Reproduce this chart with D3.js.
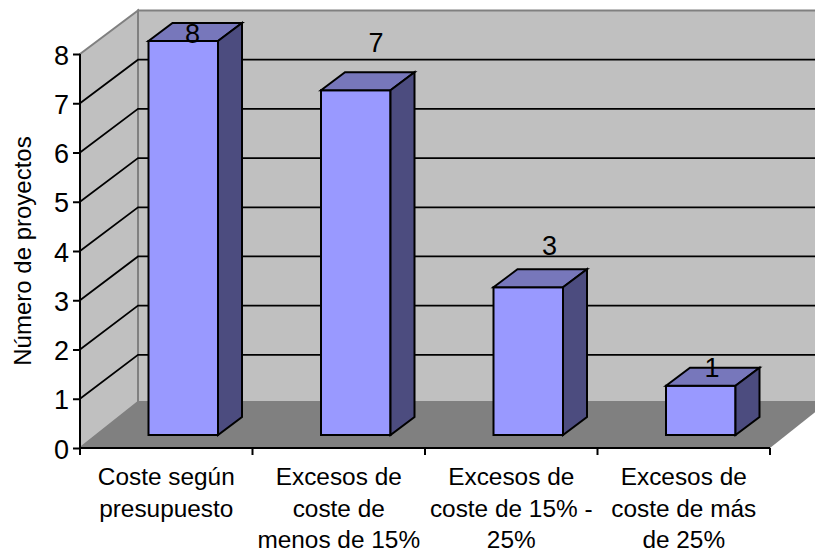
<!DOCTYPE html>
<html><head><meta charset="utf-8">
<script src="https://cdn.jsdelivr.net/npm/d3@7/dist/d3.min.js"></script>
<style>html,body{margin:0;padding:0;background:#fff}svg{display:block}text{font-family:"Liberation Sans",Arial,sans-serif;fill:#000}</style>
</head><body><svg id="c" width="815" height="551"></svg>
<script>
const categories=[["Coste según","presupuesto"],["Excesos de","coste de","menos de 15%"],["Excesos de","coste de 15% -","25%"],["Excesos de","coste de más","de 25%"]];
const values=[8,7,3,1];
const yTicks=[0,1,2,3,4,5,6,7,8];
const axisTitle="Número de proyectos";

const labelDX=[44,55,56,46];
const labelDY=[2,-38,-32,-9];

const svg=d3.select("#c");
const x=d3.scaleBand().domain(d3.range(categories.length)).range([80,770]).paddingInner(0);
const yFront=d3.scaleLinear().domain([0,8]).range([448,54]);
const yBack=d3.scaleLinear().domain([0,8]).range([404,10.5]);
const yBar=d3.scaleLinear().domain([0,8]).range([435,41]);
const depth={x:58,barX:24,barY:-18,floorY:402};
const LW=2;
const path=p=>"M"+p.map(d=>d.join(",")).join("L")+"Z";
const right=x.range()[1], bx=depth.x;

// walls and floor
svg.append("path").attr("d",path([[80,yFront(8)],[80+bx,yBack(8)],[80+bx,depth.floorY],[80,yFront(0)]])).attr("fill","#c0c0c0").attr("stroke","#808080").attr("stroke-width",LW);
svg.append("path").attr("d",path([[80+bx,yBack(8)],[right+bx,yBack(8)],[right+bx,depth.floorY],[80+bx,depth.floorY]])).attr("fill","#c0c0c0").attr("stroke","#808080").attr("stroke-width",LW);
svg.append("path").attr("d",path([[80,yFront(0)],[80+bx,depth.floorY],[right+bx,depth.floorY],[right,yFront(0)]])).attr("fill","#808080");

// gridlines
svg.append("g").selectAll("path").data(yTicks.filter(d=>d>0&&d<8)).join("path")
 .attr("d",d=>`M80,${yFront(d)}L${80+bx},${yBack(d)}L${right+bx},${yBack(d)}`)
 .attr("fill","none").attr("stroke","#000").attr("stroke-width",LW-0.25);

// bars
const barW=69.5, barOff=68.5;
const bars=svg.append("g").selectAll("g").data(values).join("g");
const bl=(d,i)=>x(i)+barOff;
const st={stroke:"#000","stroke-width":LW,"stroke-linejoin":"miter"};
function deco(s){for(const k in st)s.attr(k,st[k]);return s;}
deco(bars.append("path").attr("fill","#9999ff").attr("d",(d,i)=>path([[bl(d,i),yBar(d)],[bl(d,i)+barW,yBar(d)],[bl(d,i)+barW,yBar(0)],[bl(d,i),yBar(0)]])));
deco(bars.append("path").attr("fill","#7777bb").attr("d",(d,i)=>path([[bl(d,i),yBar(d)],[bl(d,i)+depth.barX,yBar(d)+depth.barY],[bl(d,i)+barW+depth.barX,yBar(d)+depth.barY],[bl(d,i)+barW,yBar(d)]])));
deco(bars.append("path").attr("fill","#4c4c7f").attr("d",(d,i)=>path([[bl(d,i)+barW,yBar(d)],[bl(d,i)+barW+depth.barX,yBar(d)+depth.barY],[bl(d,i)+barW+depth.barX,yBar(0)+depth.barY],[bl(d,i)+barW,yBar(0)]])));

// data labels
svg.append("g").selectAll("text").data(values).join("text")
 .attr("x",(d,i)=>bl(d,i)+labelDX[i]).attr("y",(d,i)=>yBar(d)+labelDY[i]).attr("text-anchor","middle").attr("font-size",27).text(d=>d);

// axes
svg.append("g").attr("transform","translate(80,0)")
 .call(d3.axisLeft(yFront).tickValues(yTicks).tickSize(7).tickPadding(4).tickFormat(d3.format("d")))
 .call(g=>{g.select(".domain").attr("stroke-width",LW).attr("d",`M0,${yFront(8)}V${yFront(0)}`);g.selectAll("line").attr("stroke-width",LW);g.selectAll("text").attr("font-size",27).attr("font-family",'"Liberation Sans",Arial,sans-serif').attr("dy","0.37em");});
svg.append("g").attr("transform",`translate(0,${yFront(0)})`)
 .call(d3.axisBottom(x).tickValues([]).tickSize(0))
 .call(g=>{g.select(".domain").attr("stroke-width",LW).attr("d",`M80,0H${right}`);});
svg.append("g").selectAll("line").data(d3.range(categories.length+1)).join("line")
 .attr("x1",i=>i<categories.length?x(i):right).attr("x2",i=>i<categories.length?x(i):right)
 .attr("y1",yFront(0)).attr("y2",yFront(0)+7).attr("stroke","#000").attr("stroke-width",LW);

// category labels
const cat=svg.append("g").selectAll("text").data(categories).join("text")
 .attr("text-anchor","middle").attr("font-size",24.4);
cat.selectAll("tspan").data((d,i)=>d.map((t,j)=>({t,j,i}))).join("tspan")
 .attr("x",d=>x(d.i)+x.bandwidth()/2).attr("y",d=>485+d.j*31.5).text(d=>d.t);

svg.append("text").attr("transform","translate(30.5,251) rotate(-90)").attr("text-anchor","middle").attr("font-size",24).text(axisTitle);
</script></body></html>
